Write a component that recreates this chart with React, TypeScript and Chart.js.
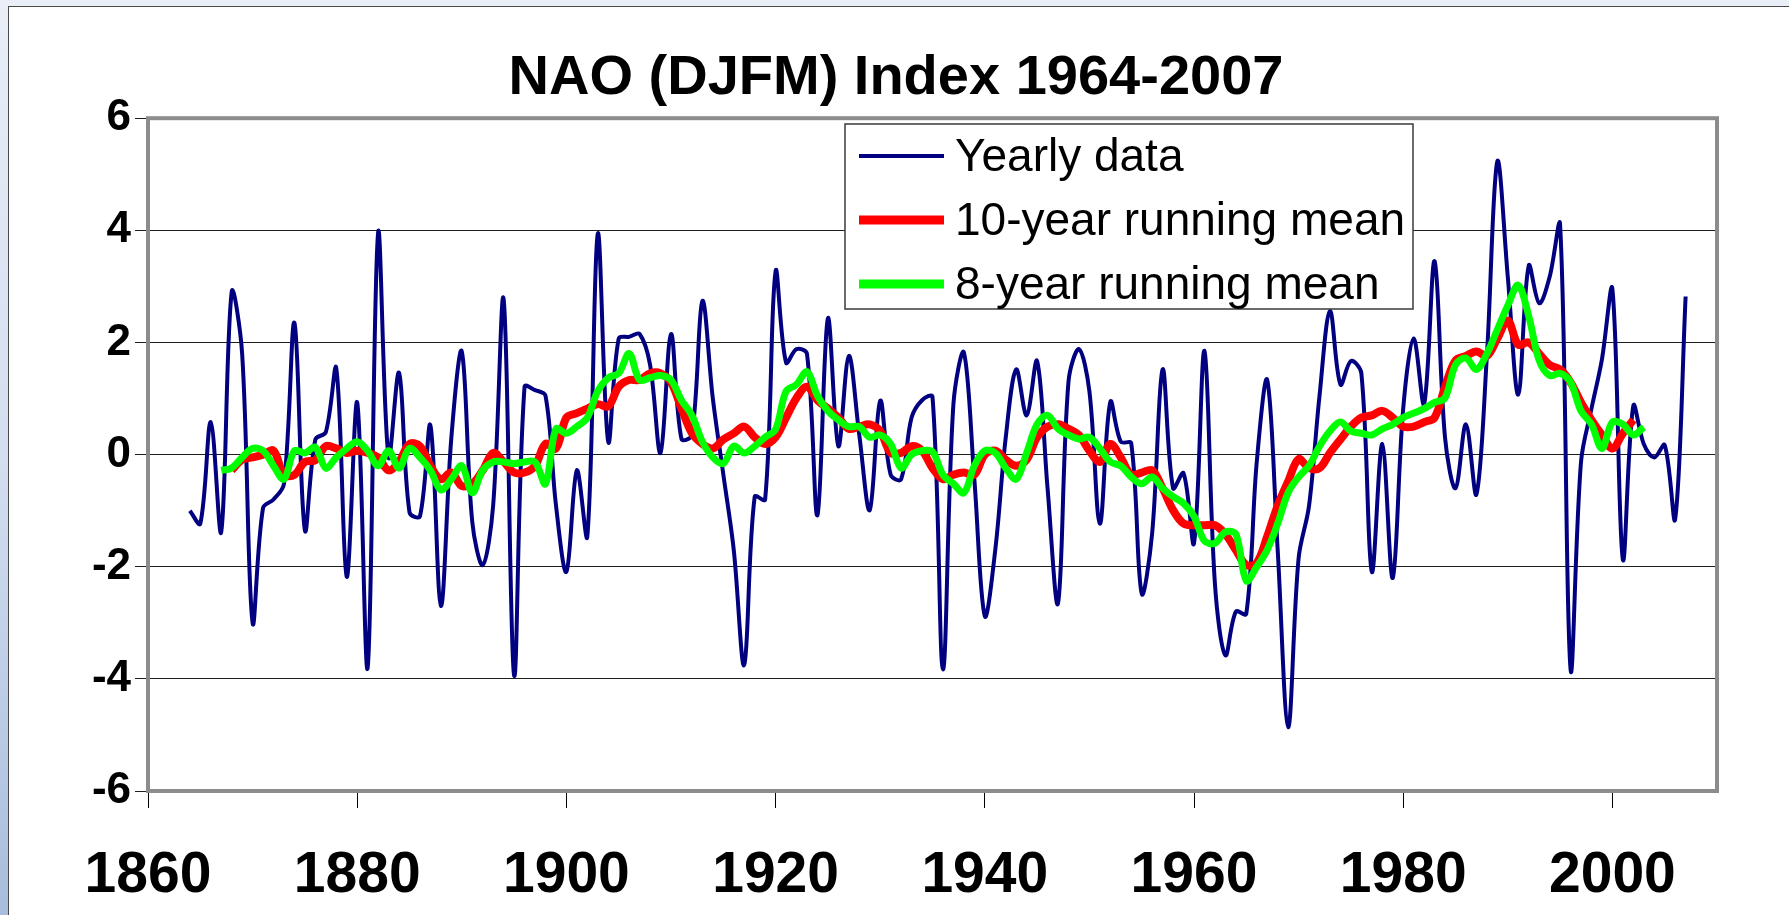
import React, { useEffect, useRef } from "react";
import { Chart, registerables } from "chart.js";

Chart.register(...registerables);

const TITLE = "NAO (DJFM) Index 1964-2007";
const SERIES_LABELS = ["Yearly data", "10-year running mean", "8-year running mean"];

// Yearly DJFM NAO index, 1864..2007
const yearlyStart = 1864;
const yearlyValues = [
  -1.0, -1.23, 0.58, -1.38, 2.9, 1.8, -3.0, -0.95, -0.8, -0.52,
  2.35, -1.35, 0.27, 0.4, 1.54, -2.18, 0.93, -3.8, 3.96, -0.05,
  1.46, -1.03, -1.1, 0.52, -2.7, 0.3, 1.84, -1.2, -1.97, -0.9,
  2.77, -3.94, 1.21, 1.15, 1.05, -0.9, -2.09, -0.28, -1.46, 3.94,
  0.23, 2.07, 2.1, 2.15, 1.6, 0.03, 2.15, 0.28, 0.35, 2.74,
  1.0, -0.35, -1.7, -3.75, -0.75, -0.8, 3.27, 1.64, 1.88, 1.8,
  -1.08, 2.43, 0.15, 1.76, 0.35, -0.99, 0.96, -0.36, -0.44, 0.66,
  0.97, 1.03, -3.83, 0.9, 1.82, -0.44, -2.88, -1.7, 0.3, 1.52,
  0.7, 1.67, -0.6, -2.65, 1.3, 1.88, 1.13, -1.23, 0.94, 0.23,
  0.2, -2.48, -1.4, 1.52, -0.6, -0.33, -1.58, 1.85, -2.3, -3.58,
  -2.8, -2.84, -0.13, 1.33, -1.7, -4.86, -1.85, -0.91, 1.05, 2.56,
  1.25, 1.67, 1.45, -2.09, 0.19, -2.2, 0.82, 2.07, 0.9, 3.45,
  0.3, -0.6, 0.54, -0.71, 1.76, 5.23, 3.17, 1.07, 3.37, 2.7,
  3.17, 4.1, -3.83, -0.13, 0.82, 1.7, 2.95, -1.87, 0.87, 0.19,
  -0.05, 0.17, -1.15, 2.82,
];

// 10-year running mean, 1868..2002
const mean10Start = 1868;
const mean10Values = [
  -0.28, -0.09, -0.05, 0.0, 0.07, -0.36, -0.36, -0.13, -0.1, 0.15,
  0.11, 0.03, 0.07, 0.03, -0.05, -0.28, -0.13, 0.19, 0.15, -0.2,
  -0.44, -0.32, -0.56, -0.52, -0.28, 0.03, -0.13, -0.32, -0.32, -0.2,
  0.19, 0.11, 0.66, 0.74, 0.82, 0.9, 0.86, 1.21, 1.33, 1.33,
  1.45, 1.45, 1.29, 0.82, 0.38, 0.19, 0.11, 0.27, 0.38, 0.5,
  0.31, 0.19, 0.31, 0.66, 1.01, 1.21, 0.97, 0.82, 0.66, 0.46,
  0.5, 0.54, 0.42, 0.03, 0.03, 0.15, 0.07, -0.24, -0.44, -0.36,
  -0.32, -0.36, 0.0, 0.07, -0.09, -0.2, -0.09, 0.31, 0.5, 0.54,
  0.46, 0.35, 0.07, -0.13, 0.19, -0.05, -0.36, -0.32, -0.28, -0.6,
  -0.99, -1.23, -1.26, -1.26, -1.26, -1.42, -1.7, -1.97, -1.93, -1.46,
  -0.91, -0.48, -0.08, -0.24, -0.24, 0.03, 0.27, 0.5, 0.66, 0.7,
  0.78, 0.66, 0.5, 0.5, 0.58, 0.66, 1.21, 1.68, 1.76, 1.84,
  1.76, 2.07, 2.39, 1.96, 2.0, 1.8, 1.6, 1.52, 1.29, 0.93,
  0.62, 0.35, 0.11, 0.38, 0.62,
];

// 8-year running mean, 1867..2003
const mean8Start = 1867;
const mean8Values = [
  -0.28, -0.24, -0.05, 0.11, 0.07, -0.2, -0.44, 0.07, 0.03, 0.13,
  -0.24, -0.05, 0.11, 0.23, 0.07, -0.2, 0.07, -0.24, 0.11, -0.05,
  -0.28, -0.63, -0.44, -0.2, -0.68, -0.28, -0.13, -0.13, -0.16, -0.13,
  -0.13, -0.52, 0.46, 0.38, 0.5, 0.66, 1.13, 1.37, 1.45, 1.8,
  1.33, 1.37, 1.41, 1.33, 0.97, 0.7, 0.23, -0.05, -0.16, 0.15,
  0.03, 0.15, 0.31, 0.45, 1.13, 1.25, 1.48, 1.05, 0.78, 0.62,
  0.5, 0.5, 0.31, 0.35, 0.19, -0.24, 0.0, 0.07, 0.05, -0.36,
  -0.52, -0.68, -0.2, 0.07, 0.03, -0.24, -0.44, 0.03, 0.54, 0.7,
  0.46, 0.35, 0.28, 0.31, 0.11, -0.13, -0.2, -0.4, -0.52, -0.4,
  -0.6, -0.75, -0.87, -1.1, -1.54, -1.58, -1.38, -1.42, -2.25, -2.0,
  -1.7, -1.23, -0.68, -0.4, -0.2, 0.15, 0.42, 0.58, 0.42, 0.38,
  0.35, 0.46, 0.54, 0.66, 0.74, 0.82, 0.93, 1.01, 1.6, 1.72,
  1.52, 1.8, 2.23, 2.66, 3.02, 2.47, 1.68, 1.41, 1.45, 1.29,
  0.78, 0.54, 0.11, 0.58, 0.54, 0.35, 0.49,
];

const X_MIN = 1860;
const X_MAX = 2010;
const X_STEP = 20;
const Y_MIN = -6;
const Y_MAX = 6;
const Y_STEP = 2;

const FONT = "'Liberation Sans', Arial, Helvetica, sans-serif";

const toPoints = (start: number, vals: number[]) =>
  vals.map((v, i) => ({ x: start + i, y: v }));

// keep the y tick labels from being clipped by the axis box
const widenYLabelArea = {
  id: "widenYLabelArea",
  afterLayout(chart: any) {
    if (chart.scales.y) chart.scales.y.left = 0;
  },
};

const plotBorder = {
  id: "plotBorder",
  beforeDatasetsDraw(chart: any) {
    const { ctx, chartArea } = chart;
    ctx.save();
    ctx.strokeStyle = "#8c8c8c";
    ctx.lineWidth = 4;
    ctx.strokeRect(
      chartArea.left,
      chartArea.top,
      chartArea.right - chartArea.left,
      chartArea.bottom - chartArea.top
    );
    ctx.restore();
  },
};

const boxLegend = {
  id: "boxLegend",
  afterDraw(chart: any) {
    const { ctx } = chart;
    const box = { x: 845, y: 124, w: 568, h: 185 };
    ctx.save();
    ctx.fillStyle = "#ffffff";
    ctx.fillRect(box.x, box.y, box.w, box.h);
    ctx.strokeStyle = "#3a3a3a";
    ctx.lineWidth = 1.5;
    ctx.strokeRect(box.x, box.y, box.w, box.h);
    const order = [2, 1, 0]; // dataset indices: yearly, 10-yr, 8-yr
    const rows = [156, 220, 284];
    ctx.font = `46px ${FONT}`;
    ctx.textBaseline = "middle";
    ctx.textAlign = "left";
    order.forEach((di, r) => {
      const ds = chart.data.datasets[di];
      const y = rows[r];
      ctx.strokeStyle = ds.borderColor;
      ctx.lineWidth = di === 2 ? 4 : 9;
      ctx.lineCap = "butt";
      ctx.beginPath();
      ctx.moveTo(859, y);
      ctx.lineTo(944, y);
      ctx.stroke();
      ctx.fillStyle = "#000";
      ctx.fillText(ds.label, 955, y + 2);
    });
    ctx.restore();
  },
};

export default function App() {
  const canvasRef = useRef<HTMLCanvasElement | null>(null);

  useEffect(() => {
    const canvas = canvasRef.current;
    if (!canvas) return;
    const chart = new Chart(canvas, {
      type: "line",
      data: {
        datasets: [
          {
            label: SERIES_LABELS[2],
            data: toPoints(mean8Start, mean8Values),
            borderColor: "#00ff00",
            borderWidth: 7,
            pointRadius: 0,
            tension: 0.35,
            fill: false,
            order: 1,
          },
          {
            label: SERIES_LABELS[1],
            data: toPoints(mean10Start, mean10Values),
            borderColor: "#ff0000",
            borderWidth: 8,
            pointRadius: 0,
            tension: 0.35,
            fill: false,
            order: 2,
          },
          {
            label: SERIES_LABELS[0],
            data: toPoints(yearlyStart, yearlyValues),
            borderColor: "#000080",
            borderWidth: 4,
            pointRadius: 0,
            tension: 0.35,
            fill: false,
            order: 3,
          },
        ],
      },
      options: {
        responsive: false,
        animation: false,
        devicePixelRatio: 1,
        layout: { padding: { left: 75, right: 72, top: 0, bottom: 0 } },
        plugins: {
          legend: { display: false },
          tooltip: { enabled: false },
          title: {
            display: true,
            text: TITLE,
            color: "#000",
            font: { family: FONT, size: 56, weight: "bold" },
            padding: { top: 45, bottom: 6 },
          },
        },
        scales: {
          x: {
            type: "linear",
            min: X_MIN,
            max: X_MAX,
            afterFit: (s: any) => {
              s.height = 124;
            },
            grid: {
              display: true,
              drawOnChartArea: false,
              drawTicks: true,
              tickLength: 17,
              color: "#000",
              lineWidth: 1,
            },
            border: { display: true, color: "#000", width: 1 },
            ticks: {
              stepSize: X_STEP,
              includeBounds: false,
              autoSkip: false,
              maxRotation: 0,
              padding: 34,
              color: "#000",
              font: { family: FONT, size: 57, weight: "bold" },
              callback: (v: any) => String(v),
            },
          },
          y: {
            type: "linear",
            min: Y_MIN,
            max: Y_MAX,
            afterFit: (s: any) => {
              s.width = 73;
            },
            grid: {
              display: true,
              drawOnChartArea: true,
              drawTicks: true,
              tickLength: 13,
              color: "#1e1e1e",
              lineWidth: 1,
            },
            border: { display: true, color: "#000", width: 1 },
            ticks: {
              stepSize: Y_STEP,
              padding: 4,
              color: "#000",
              font: { family: FONT, size: 44, weight: "bold" },
              callback: (v: any) => String(v),
            },
          },
        },
      },
      plugins: [widenYLabelArea, plotBorder, boxLegend],
    });
    return () => chart.destroy();
  }, []);

  return (
    <div
      style={{
        position: "fixed",
        left: 0,
        top: 0,
        width: 1789,
        height: 915,
        overflow: "hidden",
        background: "linear-gradient(to bottom, #e9eef7 0%, #d3def0 50%, #a8bddc 100%)",
      }}
    >
      <div
        style={{
          position: "absolute",
          left: 8,
          top: 6,
          width: 1800,
          height: 920,
          background: "#ffffff",
          border: "1px solid #4a4a4a",
          boxSizing: "border-box",
        }}
      />
      <canvas
        ref={canvasRef}
        width={1789}
        height={915}
        style={{ position: "absolute", left: 0, top: 0, width: 1789, height: 915 }}
      />
    </div>
  );
}
